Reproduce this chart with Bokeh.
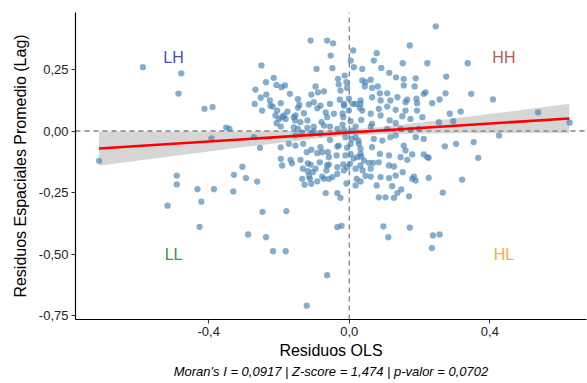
from bokeh.plotting import figure
from bokeh.models import Range1d, FixedTicker, Title, ColumnDataSource
from bokeh.embed import file_html
from bokeh.resources import INLINE
from bokeh.core.properties import value

# OLS residuals (x) and spatial lag of residuals (y)
res_ols = [
 -0.587,-0.478,-0.486,-0.412,-0.389,-0.350,-0.341,-0.392,-0.712,-0.304,-0.250,-0.271,-0.254,-0.267,-0.237,-0.215,
 -0.252,-0.269,-0.248,-0.226,-0.236,-0.207,-0.193,-0.183,-0.169,-0.195,-0.218,-0.205,-0.176,-0.210,-0.191,-0.207,
 -0.195,-0.158,-0.146,-0.142,-0.129,-0.154,-0.139,-0.119,-0.158,-0.146,-0.135,-0.110,-0.063,-0.046,-0.053,-0.093,
 -0.048,0.011,0.004,0.013,-0.032,-0.013,-0.008,-0.030,-0.096,-0.089,-0.072,-0.108,-0.146,-0.115,-0.101,-0.082,
 -0.091,-0.055,-0.027,-0.015,-0.001,0.010,-0.025,-0.006,-0.067,-0.044,-0.063,-0.079,-0.101,-0.072,-0.055,-0.019,
 -0.034,-0.015,-0.101,-0.119,-0.172,-0.153,-0.131,-0.195,-0.121,-0.108,-0.091,-0.061,-0.034,-0.055,-0.006,0.004,
 0.018,-0.195,-0.167,-0.191,-0.163,-0.139,-0.118,-0.084,-0.063,-0.036,-0.017,0.002,0.023,-0.224,-0.186,-0.200,
 -0.181,-0.153,-0.153,-0.110,-0.082,-0.077,-0.132,-0.110,-0.065,-0.104,-0.077,-0.048,
 0.246,0.172,0.078,0.070,0.222,0.152,0.337,0.037,0.091,0.114,0.133,0.155,0.189,0.276,0.037,0.046,
 0.061,0.044,0.065,0.081,0.087,0.108,0.155,0.186,0.212,0.217,0.274,0.347,0.409,0.257,0.236,0.191,
 0.165,0.137,0.117,0.089,0.065,0.032,0.018,-0.001,0.030,0.037,0.084,0.108,0.132,0.160,0.193,0.286,
 0.317,0.537,0.627,0.296,0.255,0.208,0.174,0.151,0.115,0.089,0.061,0.034,0.004,-0.017,0.018,0.061,
 0.108,0.146,0.174,0.198,0.426,0.354,0.304,0.272,0.367,0.222,0.212,0.179,0.160,0.146,0.165,0.113,
 0.087,0.065,0.070,0.094,0.117,0.132,0.189,0.155,0.027,0.004,-0.082,-0.058,0.032,0.042,0.084,0.113,
 0.127,
 -0.491,-0.491,-0.432,-0.385,-0.328,-0.294,-0.262,-0.330,-0.517,-0.421,-0.426,-0.288,-0.247,-0.179,-0.237,-0.217,
 -0.181,-0.063,-0.121,-0.118,-0.096,-0.115,-0.112,-0.134,-0.127,-0.108,-0.091,-0.072,-0.058,-0.058,-0.034,-0.034,
 -0.015,0.018,-0.006,-0.067,-0.034,-0.025,-0.034,-0.022,0.021,
 0.226,0.321,0.266,0.226,0.184,0.189,0.179,0.152,0.132,0.113,0.122,0.089,0.061,0.046,0.078,0.084,
 0.103,0.127,0.137,0.148,0.170,0.032,0.032,0.061,0.056,0.068,0.034,0.097,0.111,0.172,0.238,0.257,
 0.235,-0.015,0.032,0.160,0.193,0.007,0.065,0.132,0.212,
 -0.019,-0.011,0.007,0.026,-0.030,0.032,-0.011,0.012,0.038,-0.008,0.018,
]
lag_res = [
 0.259,0.234,0.152,0.090,0.097,0.014,0.009,-0.030,-0.121,-0.145,0.266,-0.025,-0.068,0.168,0.198,0.216,
 0.135,0.110,0.083,0.124,0.148,0.187,0.178,0.185,0.151,0.113,0.099,0.083,0.079,0.063,0.056,0.032,
 0.018,0.056,0.129,0.106,0.072,0.043,0.036,0.043,0.015,0.009,-0.007,0.367,0.367,0.356,0.306,0.252,
 0.255,0.327,0.286,0.259,0.212,0.225,0.198,0.189,0.181,0.157,0.161,0.148,0.094,0.108,0.117,0.103,
 0.092,0.110,0.127,0.110,0.131,0.110,0.164,0.175,0.076,0.070,0.056,0.036,0.018,0.022,0.018,0.026,
 0.009,0.005,-0.001,0.013,-0.052,-0.059,-0.052,-0.066,-0.086,-0.076,-0.090,-0.086,-0.063,-0.036,-0.068,-0.093,
 -0.025,-0.113,-0.117,-0.140,-0.131,-0.117,-0.131,-0.127,-0.140,-0.099,-0.136,-0.133,-0.106,0.103,0.063,0.049,
 0.049,0.063,-0.018,-0.011,-0.011,-0.086,-0.153,-0.136,-0.160,-0.167,-0.185,-0.187,
 0.425,0.347,0.316,0.286,0.275,0.275,0.275,0.252,0.256,0.236,0.218,0.212,0.214,0.221,0.205,0.198,
 0.208,0.181,0.175,0.181,0.153,0.153,0.185,0.181,0.151,0.157,0.153,0.151,0.128,0.128,0.113,0.131,
 0.127,0.137,0.124,0.124,0.137,0.124,0.110,0.083,0.094,0.083,0.090,0.099,0.086,0.083,0.083,0.070,
 0.079,0.076,0.034,0.040,0.036,0.056,0.049,0.060,0.043,0.063,0.070,0.045,0.040,0.056,0.018,0.018,
 0.009,0.009,0.005,0.009,-0.018,-0.045,-0.052,-0.062,-0.109,-0.106,-0.095,-0.095,-0.079,-0.106,-0.117,-0.099,
 -0.093,-0.066,-0.032,-0.039,-0.025,-0.018,-0.025,-0.059,-0.052,-0.052,-0.066,-0.106,-0.093,-0.120,-0.127,-0.140,
 -0.144,
 -0.181,-0.217,-0.236,-0.236,-0.178,-0.191,-0.205,-0.245,-0.303,-0.287,-0.389,-0.420,-0.328,-0.325,-0.431,-0.488,
 -0.488,-0.585,-0.709,-0.163,-0.153,-0.183,-0.194,-0.194,-0.218,-0.214,-0.204,-0.194,-0.194,-0.136,-0.147,-0.174,
 -0.160,-0.153,-0.147,-0.252,-0.252,-0.271,-0.390,-0.385,-0.194,
 -0.109,-0.197,-0.250,-0.190,-0.185,-0.201,-0.194,-0.167,-0.181,-0.191,-0.224,-0.187,-0.185,-0.182,-0.221,-0.269,
 -0.269,-0.271,-0.252,-0.237,-0.265,-0.205,-0.140,-0.153,-0.129,-0.129,-0.103,-0.387,-0.431,-0.392,-0.424,-0.420,
 -0.475,0.103,0.110,0.117,0.113,0.002,0.029,0.032,-0.032,
 0.071,-0.025,-0.032,-0.039,-0.059,-0.072,-0.099,-0.112,-0.160,-0.213,-0.221,
]

# Linear fit (ends) and its 95% confidence band
fit_x = [-0.712, 0.626]
fit_y = [-0.071, 0.051]
band_x = [-0.712, -0.5, -0.3, -0.1, 0.0, 0.1, 0.3, 0.5, 0.626]
band_lo = [-0.1405, -0.1016, -0.0653, -0.0311, -0.0181, -0.0117, -0.0087, -0.0084, -0.0085]
band_hi = [-0.0015, -0.0018, -0.0017, 0.0007, 0.0059, 0.0177, 0.0513, 0.0874, 0.1105]

quad_text = ["LH", "HH", "LL", "HL"]
quad_x = [-0.50, 0.44, -0.50, 0.44]
quad_y = [0.30, 0.30, -0.50, -0.50]
quad_colors = ["#4F4CB8", "#B65A5A", "#3F8F45", "#FFAA3C"]

x_ticks = [-0.4, 0.0, 0.4]
x_tick_labels = ["-0,4", "0,0", "0,4"]
y_ticks = [0.25, 0.0, -0.25, -0.5, -0.75]
y_tick_labels = ["0,25", "0,00", "-0,25", "-0,50", "-0,75"]

caption = "Moran's I = 0,0917 | Z-score = 1,474 | p-valor = 0,0702"
FONT = "Liberation Sans"

p = figure(width=587, height=383, output_backend="svg", toolbar_location=None,
           x_range=Range1d(-0.779, 0.675), y_range=Range1d(-0.765, 0.481),
           min_border_left=75, min_border_right=1, min_border_top=12, min_border_bottom=64)
p.outline_line_color = None
p.grid.visible = False
p.background_fill_color = "white"
p.border_fill_color = "white"

# reference lines
p.line(x=[-0.779, 0.675], y=[0, 0], line_color="#808080", line_dash="5 4", line_width=1.3)
p.line(x=[0, 0], y=[-0.765, 0.481], line_color="#808080", line_dash="5 4", line_width=1.3)

# confidence band
p.varea(x=band_x, y1=band_lo, y2=band_hi, fill_color="#999999", fill_alpha=0.4)

src = ColumnDataSource(dict(x=res_ols, y=lag_res))
p.scatter("x", "y", source=src, size=6.3, fill_color="#4682B4", fill_alpha=0.66, line_color=None)

p.line(x=fit_x, y=fit_y, line_color="red", line_width=2.6)

tsrc = ColumnDataSource(dict(x=quad_x, y=quad_y, t=quad_text, c=quad_colors))
p.text("x", "y", text="t", source=tsrc, text_color="c", text_align="center",
       text_baseline="middle", text_font=value(FONT), text_font_size="16px")

for ax, ticks, labels in ((p.xaxis[0], x_ticks, x_tick_labels), (p.yaxis[0], y_ticks, y_tick_labels)):
    ax.ticker = FixedTicker(ticks=ticks)
    ax.major_label_overrides = {t: l for t, l in zip(ticks, labels)}
    ax.minor_tick_line_color = None
    ax.major_tick_in = 0
    ax.major_tick_out = 4
    ax.major_tick_line_color = "#333333"
    ax.axis_line_color = "black"
    ax.axis_line_width = 1.2
    ax.major_label_text_font = FONT
    ax.major_label_text_font_size = "13px"
    ax.major_label_text_color = "#222222"
    ax.axis_label_text_font = FONT
    ax.axis_label_text_font_size = "16px"
    ax.axis_label_text_font_style = "normal"
    ax.axis_label_text_color = "black"
    ax.major_label_standoff = 3

p.xaxis.axis_label_standoff = 3
p.yaxis.axis_label_standoff = 7
p.xaxis.axis_label = "Residuos OLS"
p.yaxis.axis_label = "Residuos Espaciales Promedio (Lag)"

cap = Title(text=caption, align="center", text_font=FONT, text_font_size="13px",
            text_font_style="italic", text_color="black", standoff=1)
p.add_layout(cap, "below")

open("out.html", "w").write(file_html(p, INLINE))
